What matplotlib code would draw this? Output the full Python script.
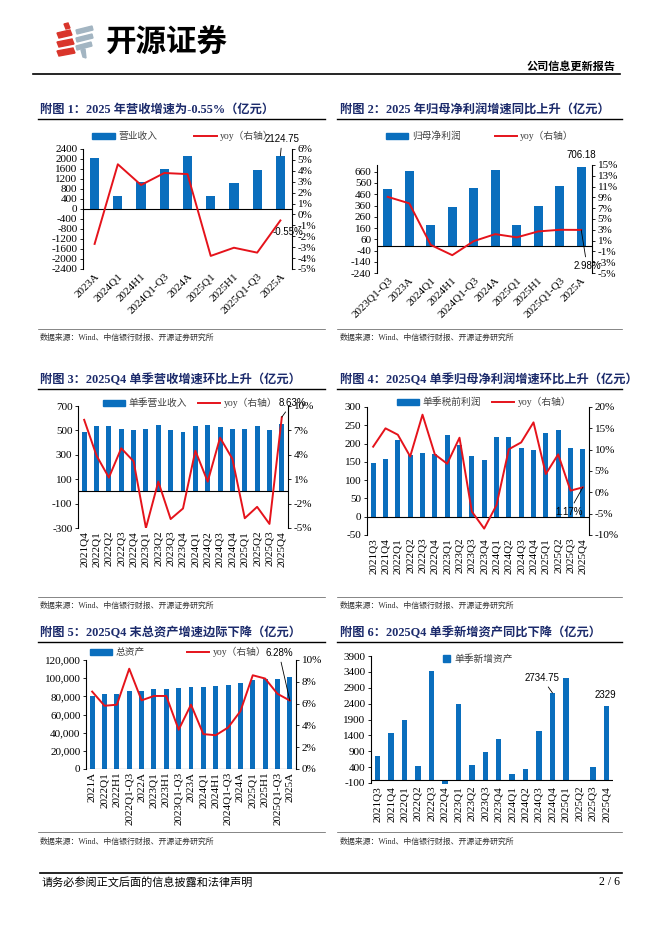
import numpy as np
import matplotlib
matplotlib.use('Agg')
import matplotlib.pyplot as plt
from matplotlib.lines import Line2D
from matplotlib.patches import Patch, Polygon
from matplotlib.ticker import FuncFormatter

W, H = 662, 936
BLUE = '#0A6EBD'
RED = '#E5131B'
NAVY = '#1B2A6B'
SANS = ['Liberation Sans', 'DejaVu Sans']

plt.rcParams['font.family'] = ['Liberation Serif', 'Noto Sans CJK SC']
plt.rcParams['font.size'] = 8
plt.rcParams['axes.unicode_minus'] = False

#### data
p1_cats = ['2023A', '2024Q1', '2024H1', '2024Q1-Q3', '2024A', '2025Q1', '2025H1', '2025Q1-Q3', '2025A']
p1_rev = [2050, 540, 1070, 1620, 2130, 520, 1050, 1570, 2124.75]
p1_yoy = [-2.7, 4.6, 2.7, 3.8, 3.7, -3.8, -3.05, -3.5, -0.55]

p2_cats = ['2023Q1-Q3', '2023A', '2024Q1', '2024H1', '2024Q1-Q3', '2024A', '2025Q1', '2025H1', '2025Q1-Q3', '2025A']
p2_np = [510, 665, 185, 350, 515, 680, 190, 360, 530, 706.18]
p2_yoy = [9.1, 7.9, 0.2, -1.7, 0.9, 2.2, 1.6, 2.7, 3.0, 2.98]

p3_cats = ['2021Q4', '2022Q1', '2022Q2', '2022Q3', '2022Q4', '2023Q1', '2023Q2', '2023Q3', '2023Q4',
           '2024Q1', '2024Q2', '2024Q3', '2024Q4', '2025Q1', '2025Q2', '2025Q3', '2025Q4']
p3_rev = [490, 535, 535, 515, 505, 510, 545, 500, 490, 535, 545, 530, 510, 515, 535, 505, 555]
p3_yoy = [8.3, 3.9, 1.2, 4.8, 3.2, -5.0, 0.7, -3.9, -2.6, 4.5, 0.7, 6.1, 3.5, -3.8, -2.4, -4.5, 8.63]

p4_cats = ['2021Q3'] + p3_cats
p4_pbt = [148, 157, 210, 170, 175, 171, 224, 197, 167, 156, 219, 218, 187, 183, 228, 238, 187, 186]
p4_yoy = [10.7, 15.0, 13.5, 8.4, 18.2, 8.9, 6.7, 12.8, -4.5, -8.5, -3.0, 10.1, 11.7, 16.4, 4.3, 8.9, 0.4, 1.17]

p5_cats = ['2021A', '2022Q1', '2022H1', '2022Q1-Q3', '2022A', '2023Q1', '2023H1', '2023Q1-Q3', '2023A',
           '2024Q1', '2024H1', '2024Q1-Q3', '2024A', '2025Q1', '2025H1', '2025Q1-Q3', '2025A']
p5_assets = [80000, 82200, 82600, 86200, 85500, 87700, 88000, 89200, 90600,
             90600, 91400, 92500, 95000, 98300, 98700, 99100, 101300]
p5_yoy = [7.1, 5.8, 5.9, 9.2, 6.3, 6.7, 6.7, 3.6, 5.9, 3.2, 3.1, 3.8, 5.3, 8.6, 8.3, 6.9, 6.28]

p6_cats = p4_cats
p6_new = [760, 1490, 1900, 430, 3420, -130, 2380, 465, 880, 1290, 170, 330, 1540, 2734.75, 3200, -30, 390, 2329]

source = '数据来源：Wind、中信银行财报、开源证券研究所'

fig = plt.figure(figsize=(W / 100, H / 100), dpi=100)


def fx(x):
    return x / W


def fy(y):
    return 1 - y / H


def hline(x0, x1, y, lw=0.8, color='black'):
    fig.add_artist(Line2D([fx(x0), fx(x1)], [fy(y), fy(y)], lw=lw, color=color,
                          transform=fig.transFigure))


def ftext(x, y, s, **kw):
    fig.text(fx(x), fy(y), s, **kw)


def new_axes(l, t, r, b):
    return fig.add_axes([fx(l), fy(b), (r - l) / W, (b - t) / H])


def style(ax, left=True):
    for s in ('top', 'bottom'):
        ax.spines[s].set_visible(False)
    ax.spines['right' if left else 'left'].set_visible(False)
    ax.spines['left' if left else 'right'].set_linewidth(0.8)
    ax.tick_params(axis='y', length=2.5, width=0.6, pad=1.5, labelsize=8)


def xlabels(ax, cats, rot):
    x = np.arange(len(cats))
    ax.set_xticks(x)
    if rot == 45:
        ax.set_xticklabels(cats, rotation=45, ha='right', rotation_mode='anchor')
    else:
        ax.set_xticklabels(cats, rotation=90)
    ax.tick_params(axis='x', length=0, pad=2, labelsize=8)
    ax.set_xlim(-0.5, len(cats) - 0.5)


def combo(rect, cats, bars, yoy, blim, bticks, ylim2, yticks2, rot, name, leg, colsp=2.5, bfmt=None):
    ax = new_axes(*rect)
    x = np.arange(len(cats))
    ax.bar(x, bars, width=0.4, color=BLUE, zorder=2)
    ax.axhline(0, color='black', lw=0.8, zorder=3)
    ax.set_ylim(*blim)
    ax.set_yticks(bticks)
    if bfmt is not None:
        ax.yaxis.set_major_formatter(bfmt)
    xlabels(ax, cats, rot)
    ax2 = ax.twinx()
    ax2.plot(x, yoy, color=RED, lw=1.4, zorder=4)
    ax2.set_ylim(*ylim2)
    ax2.set_yticks(yticks2)
    ax2.yaxis.set_major_formatter(FuncFormatter(lambda v, p: f'{v:.0f}%'))
    style(ax, True)
    style(ax2, False)
    handles = [Patch(color=BLUE), Line2D([], [], color=RED, lw=1.4)]
    ax.legend(handles, [name, 'yoy（右轴）'], loc='center', bbox_to_anchor=(fx(leg[0]), fy(leg[1])),
              bbox_transform=fig.transFigure, ncol=2, frameon=False, handlelength=2.3,
              handleheight=0.55, columnspacing=colsp, handletextpad=0.35, fontsize=7,
              labelcolor='#404040', borderpad=0)
    return ax, ax2


def note(ax, xy, pos, s, line=True):
    props = dict(arrowstyle='-', lw=0.6, color='black', shrinkA=1, shrinkB=0) if line else None
    ax.annotate(s, xy=xy, xytext=(pos[0], H - pos[1]), textcoords='figure pixels',
                ha='center', va='center', fontsize=7, family=SANS, arrowprops=props, zorder=6)


#### header
red_bits = [[(64, 24), (68, 23), (70, 28), (66, 29)],
            [(57, 33), (70, 30), (72, 35), (59, 38)],
            [(57, 42), (72, 39), (74, 44), (59, 47)],
            [(57, 51), (73, 48), (75, 53), (59, 56)]]
gray_bits = [[(76, 30), (92, 26), (93, 30), (77, 34)],
             [(76, 38), (92, 34), (93, 38), (77, 42)],
             [(76, 46), (91, 42), (92, 46), (77, 50)],
             [(81, 50), (85, 49), (86, 58), (83, 57)]]
for pts, c in [(p, '#D9352B') for p in red_bits] + [(p, '#A3B5C2') for p in gray_bits]:
    fig.add_artist(Polygon([(fx(a), fy(b)) for a, b in pts], closed=True, color=c,
                           transform=fig.transFigure))
ftext(106, 42, '开源证券', fontsize=22, fontweight='bold', family='Noto Sans CJK SC', va='center')
ftext(616, 67, '公司信息更新报告', ha='right', va='center', fontsize=8, fontweight='bold')
hline(33, 620, 74, lw=1.2)

#### titles, rules, sources
titles = [('附图 1：2025 年营收增速为-0.55%（亿元）', '附图 2：2025 年归母净利润增速同比上升（亿元）'),
          ('附图 3：2025Q4 单季营收增速环比上升（亿元）', '附图 4：2025Q4 单季归母净利润增速环比上升（亿元）'),
          ('附图 5：2025Q4 末总资产增速边际下降（亿元）', '附图 6：2025Q4 单季新增资产同比下降（亿元）')]
rows = [(110, 119, 329, 338), (380, 389, 597, 606), (633, 642, 832, 842)]
for (tl, tr), (ty, uy, sy, sty) in zip(titles, rows):
    for tx, (u0, u1), t in [(40, (38, 325), tl), (340, (337, 622), tr)]:
        ftext(tx, ty, t, fontsize=8.8, fontweight='bold', color=NAVY, va='center')
        hline(u0, u1, uy, lw=1.0)
        hline(u0, u1, sy, lw=0.5, color='#555555')
        ftext(tx, sty, source, fontsize=5.7, color='#333333', va='center')

#### panel 1
ax, ax2 = combo((83, 149, 292, 269), p1_cats, p1_rev, p1_yoy, (-2400, 2400), np.arange(-2400, 2401, 400),
                (-5, 6), np.arange(-5, 7, 1), 45, '营业收入', (183, 136), colsp=3.8)
note(ax, (8, p1_rev[-1]), (282, 139), '2124.75')
note(ax2, (8, p1_yoy[-1]), (288, 232), '-0.55%', line=False)

#### panel 2
ax, ax2 = combo((377, 165, 592, 273), p2_cats, p2_np, p2_yoy, (-240, 720), np.arange(-240, 661, 100),
                (-5, 15), np.arange(-5, 16, 2), 45, '归母净利润', (480, 136), colsp=3.5)
note(ax, (9, p2_np[-1]), (581, 155), '706.18', line=False)
note(ax2, (9, p2_yoy[-1]), (587, 266), '2.98%')

#### panel 3
ax, ax2 = combo((78, 406, 288, 528), p3_cats, p3_rev, p3_yoy, (-300, 700), np.arange(-300, 701, 200),
                (-5, 10), np.arange(-5, 11, 3), 90, '单季营业收入', (190, 403), colsp=1.1)
note(ax2, (16, p3_yoy[-1]), (292, 403), '8.63%')

#### panel 4
ax, ax2 = combo((367, 407, 589, 535), p4_cats, p4_pbt, p4_yoy, (-50, 300), np.arange(-50, 301, 50),
                (-10, 20), np.arange(-10, 21, 5), 90, '单季税前利润', (484, 402), colsp=1.1)
note(ax2, (17, p4_yoy[-1]), (569, 512), '1.17%')

#### panel 5
ax, ax2 = combo((86, 660, 296, 769), p5_cats, p5_assets, p5_yoy, (0, 120000), np.arange(0, 120001, 20000),
                (0, 10), np.arange(0, 11, 2), 90, '总资产', (178, 652), colsp=4.3,
                bfmt=FuncFormatter(lambda v, p: f'{v:,.0f}'))
note(ax2, (16, p5_yoy[-1]), (279, 653), '6.28%')

#### panel 6
ax = new_axes(371, 656, 613, 783)
x = np.arange(len(p6_cats))
ax.bar(x, p6_new, width=0.4, color=BLUE, zorder=2, clip_on=False)
ax.axhline(0, color='black', lw=0.8, zorder=3)
ax.set_ylim(-100, 3900)
ax.set_yticks(np.arange(-100, 3901, 500))
xlabels(ax, p6_cats, 90)
style(ax, True)
ax.legend([Patch(color=BLUE)], ['单季新增资产'], loc='center', bbox_to_anchor=(fx(478), fy(659)),
          bbox_transform=fig.transFigure, frameon=False, handlelength=0.7, handleheight=0.7,
          handletextpad=0.4, fontsize=7, labelcolor='#404040', borderpad=0)
note(ax, (13, p6_new[13]), (542, 678), '2734.75')
note(ax, (17, p6_new[17]), (605, 695), '2329', line=False)

#### footer
hline(40, 622, 873, lw=1.2)
ftext(42, 882, '请务必参阅正文后面的信息披露和法律声明', fontsize=8, va='center')
ftext(620, 882, '2 / 6', fontsize=8.5, ha='right', va='center')

fig.savefig('out.png', dpi=100)
